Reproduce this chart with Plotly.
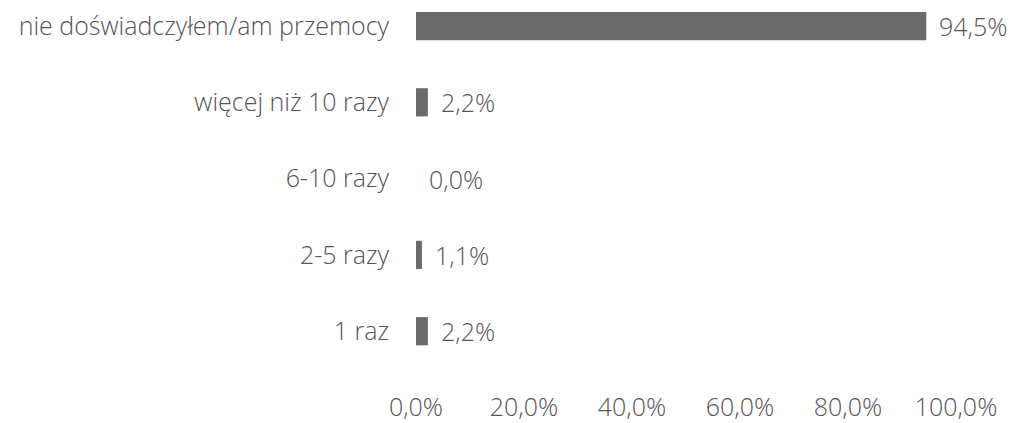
import plotly.graph_objects as go

categories = ["nie doświadczyłem/am przemocy", "więcej niż 10 razy", "6-10 razy", "2-5 razy", "1 raz"]
values = [94.5, 2.2, 0.0, 1.1, 2.2]
value_labels = ["94,5%", "2,2%", "0,0%", "1,1%", "2,2%"]
tick_vals = [0, 20, 40, 60, 80, 100]
tick_text = ["0,0%", "20,0%", "40,0%", "60,0%", "80,0%", "100,0%"]

font_family = "Open Sans"
text_color = "#555555"
fsize = 25

fig = go.Figure()
fig.add_trace(go.Bar(
    y=categories, x=values, orientation="h",
    width=0.37,
    marker=dict(color="#6b6b6b", line=dict(width=0)),
    hoverinfo="skip",
))

for cat, v, lab in zip(categories, values, value_labels):
    fig.add_annotation(x=v, y=cat, text=lab, showarrow=False, xanchor="left",
                       xshift=11, font=dict(family=font_family, size=fsize, color=text_color, weight=300))

# the page body has an 8px default margin, so the figure is 8px smaller
fig.update_layout(
    width=1007, height=415,
    margin=dict(l=408, r=59, t=0, b=33),
    paper_bgcolor="white", plot_bgcolor="white",
    showlegend=False,
    font=dict(family=font_family, size=fsize, color=text_color, weight=300),
    xaxis=dict(range=[0, 100], tickvals=tick_vals, ticktext=tick_text,
               showgrid=False, zeroline=False, showline=False, ticks="",
               ticklabelstandoff=0, automargin=False),
    yaxis=dict(type="category", range=[4.77, -0.236], showgrid=False,
               zeroline=False, showline=False, ticks="", ticklabelstandoff=26,
               automargin=False),
)

fig.write_html("out.html")
